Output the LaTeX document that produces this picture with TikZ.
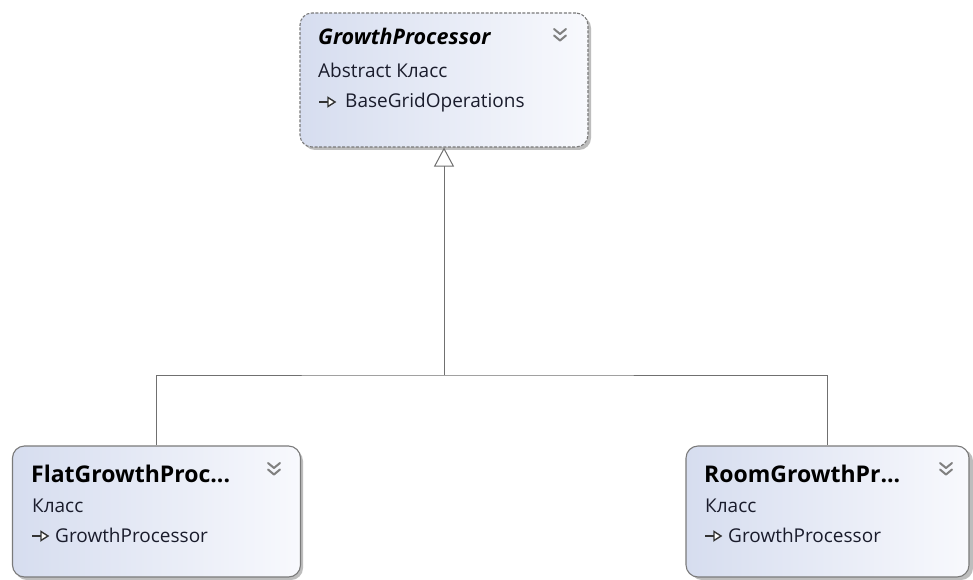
\documentclass[tikz,border=0pt]{standalone}
\usepackage{fontspec}
\setmainfont{Open Sans}
\usetikzlibrary{arrows.meta}

\definecolor{boxedge}{HTML}{7A7A7A}
\definecolor{boxleft}{HTML}{D6DDEF}
\definecolor{boxright}{HTML}{F8F9FD}
\definecolor{shadowgray}{HTML}{BDBDBD}
\definecolor{linkgray}{HTML}{707070}
\definecolor{chevgray}{HTML}{808080}
\definecolor{bodytext}{HTML}{1A1C2C}

\tikzset{
  classbox/.style={rounded corners=12pt, draw=boxedge, line width=1.1pt,
    left color=boxleft, right color=boxright},
  shadowbox/.style={rounded corners=12pt, fill=shadowgray},
  titletext/.style={anchor=base west, inner sep=0pt, text=black,
    font=\fontsize{23}{23}\selectfont\bfseries},
  abstracttitle/.style={anchor=base west, inner sep=0pt, text=black,
    font=\fontsize{21.5}{21.5}\selectfont\bfseries\itshape},
  bodyline/.style={anchor=base west, inner sep=0pt, text=bodytext,
    font=\fontsize{19}{19}\selectfont},
  chevron/.style={draw=chevgray, line width=2pt, line cap=round, line join=round},
  inheritsicon/.style={draw=black!80, line width=1.4pt},
  generalization/.style={draw=linkgray, line width=1pt},
}

\newcommand{\chevronicon}[2]{%
  \draw[chevron] (#1-6,#2-7) -- (#1,#2-2) -- (#1+6,#2-7);
  \draw[chevron] (#1-6,#2-0.5) -- (#1,#2+4.5) -- (#1+6,#2-0.5);
}
\newcommand{\inheritsmark}[2]{%
  \draw[inheritsicon] (#1,#2) -- (#1+10,#2);
  \draw[inheritsicon, fill=white, line join=miter] (#1+9,#2-4.5) -- (#1+16,#2) -- (#1+9,#2+4.5) -- cycle;
}

\begin{document}
\begin{tikzpicture}[x=1pt, y=-1pt]
\useasboundingbox (0,0) rectangle (973,580);
\fill[white] (0,0) rectangle (973,580);

% abstract base class
\fill[shadowbox] (303,16) rectangle (591,150);
\node[classbox, dashed, dash pattern=on 3pt off 1.6pt, minimum width=288pt, minimum height=134pt,
      inner sep=0pt] (gp) at (444,80) {};
\node[abstracttitle] (gpname) at (318,45) {GrowthProcessor};
\node[bodyline] (gpkind) at (318,78) {Abstract Класс};
\inheritsmark{319}{102}
\node[bodyline] (gpbase) at (345,108) {BaseGridOperations};
\chevronicon{560}{36}

% derived classes
\fill[shadowbox] (15,449) rectangle (303,580);
\node[classbox, minimum width=288pt, minimum height=131pt, inner sep=0pt] (flat) at (156.5,511.5) {};
\node[titletext] (flatname) at (31,482) {FlatGrowthProc...};
\node[bodyline] (flatkind) at (32,512) {Класс};
\inheritsmark{32}{536}
\node[bodyline] (flatbase) at (55,542) {GrowthProcessor};
\chevronicon{274}{470}

\fill[shadowbox] (690,449) rectangle (973,580);
\node[classbox, minimum width=283pt, minimum height=131pt, inner sep=0pt] (room) at (827.5,511.5) {};
\node[titletext] (roomname) at (704,482) {RoomGrowthPr...};
\node[bodyline] (roomkind) at (705,512) {Класс};
\inheritsmark{705}{536}
\node[bodyline] (roombase) at (728,542) {GrowthProcessor};
\chevronicon{946}{470}

% generalization links
\coordinate (join) at (444,375);
\draw[generalization] (flat.north) |- (join) -| (room.north);
\draw[generalization, -{Triangle[open, length=19pt, width=20pt, line width=1pt]}] (join) -- (gp.south);
\end{tikzpicture}
\end{document}
